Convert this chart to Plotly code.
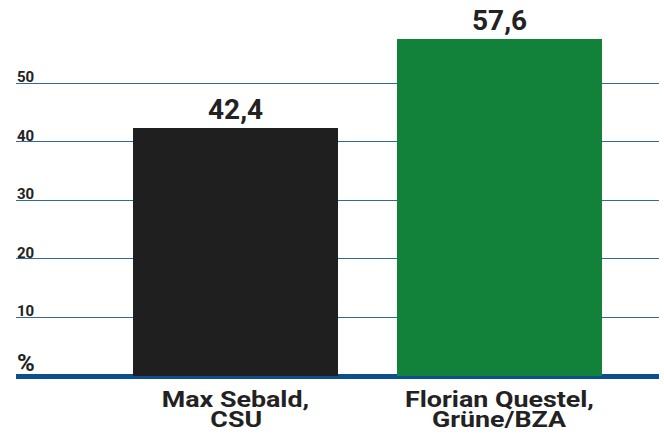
import plotly.graph_objects as go

categories_line1 = ["Max Sebald,", "Florian Questel,"]
categories_line2 = ["CSU", "Grüne/BZA"]
values = [42.4, 57.6]
value_labels = ["42,4", "57,6"]
bar_colors = ["#1f1f1f", "#12823a"]
tick_values = [10, 20, 30, 40, 50]
tick_labels = ["10", "20", "30", "40", "50"]

FONT = "Roboto"
TXT = "#222222"

x = list(range(len(values)))

fig = go.Figure()
fig.add_trace(go.Bar(
    x=x, y=values, width=0.778,
    marker=dict(color=bar_colors, line=dict(width=0)),
    hoverinfo="skip",
))

ann = []
for xi, v, lab in zip(x, values, value_labels):
    ann.append(dict(x=xi, y=v, xref="x", yref="y", text=f"<b>{lab}</b>",
                    showarrow=False, yanchor="bottom", xanchor="center", yshift=0,
                    font=dict(family=FONT, size=28, color=TXT)))
for xi, l1, l2 in zip(x, categories_line1, categories_line2):
    ann.append(dict(x=xi, y=0, xref="x", yref="y", text=f"<b>{l1}</b>",
                    showarrow=False, yanchor="middle", xanchor="center", yshift=-23,
                    borderpad=0,
                    font=dict(family=FONT, size=22, color=TXT)))
    ann.append(dict(x=xi, y=0, xref="x", yref="y", text=f"<b>{l2}</b>",
                    showarrow=False, yanchor="middle", xanchor="center", yshift=-43,
                    borderpad=0,
                    font=dict(family=FONT, size=22, color=TXT)))
for tv, tl in zip(tick_values, tick_labels):
    ann.append(dict(x=0, y=tv, xref="paper", yref="y", text=f"<b>{tl}</b>",
                    showarrow=False, yanchor="bottom", xanchor="left", yshift=-5, xshift=-1,
                    font=dict(family=FONT, size=15, color=TXT)))
ann.append(dict(x=0, y=0, xref="paper", yref="y", text="<b>%</b>",
                showarrow=False, yanchor="bottom", xanchor="left", yshift=-3, xshift=-1,
                font=dict(family=FONT, size=24, color=TXT)))

fig.update_layout(
    width=664, height=434,
    margin=dict(l=16, r=5, t=0, b=58),
    paper_bgcolor="white", plot_bgcolor="white",
    showlegend=False,
    annotations=ann,
    bargap=0,
    xaxis=dict(range=[-0.833, 1.607], showticklabels=False, showgrid=False,
               zeroline=False, showline=False, ticks=""),
    yaxis=dict(range=[0, 64.24], tickvals=tick_values, showticklabels=False,
               showgrid=True, gridcolor="#2f69a3", gridwidth=1.2,
               zeroline=True, zerolinecolor="#0b4f8e", zerolinewidth=5,
               showline=False, ticks=""),
)

post = """
document.documentElement.style.margin='0';
document.body.style.margin='0';
document.body.style.overflow='hidden';
var STRETCH = %s;
function stretchLabels(){
  document.querySelectorAll('text.annotation-text').forEach(function(t){
    var s = t.textContent;
    if (STRETCH.indexOf(s) >= 0) {
      t.removeAttribute('transform');
      var b = t.getBBox();
      var cx = b.x + b.width/2;
      t.setAttribute('transform','translate('+cx+',0) scale(1.22,1) translate('+(-cx)+',0)');
    }
  });
}
stretchLabels();
setTimeout(stretchLabels, 200);
setTimeout(stretchLabels, 800);
""" % (str(categories_line1 + categories_line2).replace("'", '"'))

fig.write_html("out.html", post_script=post, config={"displayModeBar": False})
